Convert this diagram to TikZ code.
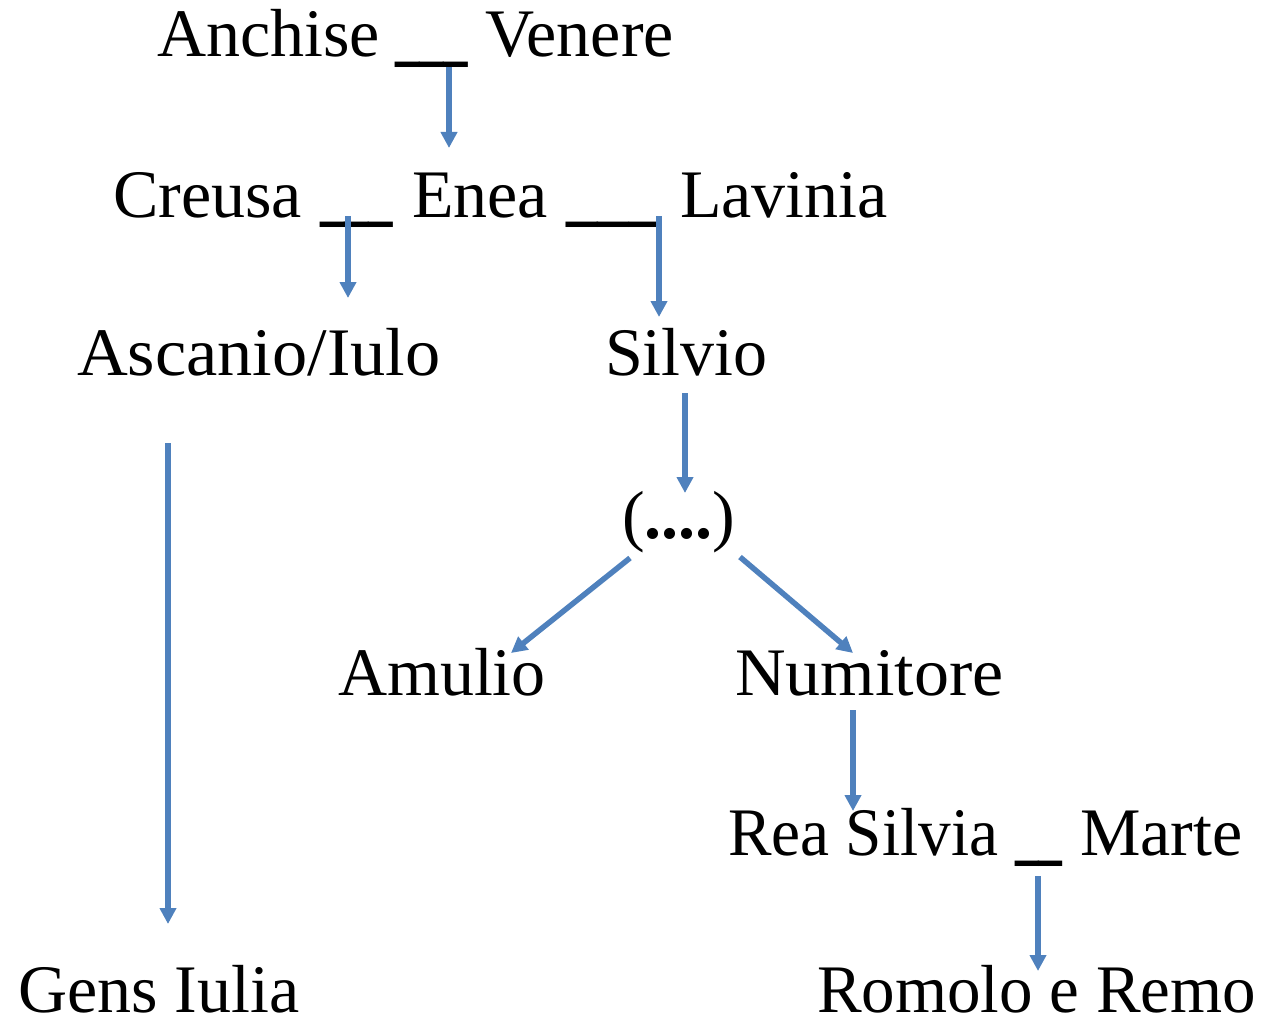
\documentclass[tikz,border=0pt]{standalone}
\usepackage{fontspec}
\setmainfont{Liberation Serif}
\usepackage{graphicx}
\usetikzlibrary{arrows.meta}
\definecolor{arrblue}{RGB}{79,129,189}
\begin{document}
\begin{tikzpicture}[x=1pt,y=-1pt,
  person/.style={anchor=base west,inner sep=0pt,outer sep=0pt,font=\fontsize{68}{80}\selectfont},
  arr/.style={draw=arrblue,line width=5.5pt,-{Triangle[length=16pt,width=16pt]}}]
\useasboundingbox (0,0) rectangle (1276,1019);
% row 1
\node[person] (anchise) at (157,57) {Anchise};
\node[person] (u1) at (395,54) {\scalebox{0.72}[1.6]{\_\_\_}};
\node[person] (venere) at (485,57) {Venere};
% row 2
\node[person] (creusa) at (113,217) {Creusa};
\node[person] (u2) at (320,214) {\scalebox{0.72}[1.6]{\_\_\_}};
\node[person] (enea) at (412,217) {Enea};
\node[person] (u3) at (566,214) {\scalebox{0.93}[1.6]{\_\_\_}};
\node[person] (lavinia) at (680,217) {Lavinia};
% row 3
\node[person] (ascanio) at (77,375) {\scalebox{1.035}[1]{Ascanio/Iulo}};
\node[person] (silvio) at (605,375) {Silvio};
% row 4
\node[person] (dots) at (622,538) {(\textbf{....})};
% row 5
\node[person] (amulio) at (338,695) {Amulio};
\node[person] (numitore) at (735,695) {\scalebox{1.03}[1]{Numitore}};
% row 6
\node[person] (rea) at (728,855) {\scalebox{0.96}[1]{Rea Silvia}};
\node[person] (u4) at (1015,852) {\scalebox{0.7}[1.6]{\_\_}};
\node[person] (marte) at (1080,855) {Marte};
% row 7
\node[person] (gens) at (18,1012) {Gens Iulia};
\node[person] (romolo) at (817,1012) {\scalebox{0.985}[1]{Romolo e Remo}};
% connector ends
\coordinate (a1s) at (449,67);   \coordinate (a1e) at (449,148);
\coordinate (a2s) at (348,216);  \coordinate (a2e) at (348,298);
\coordinate (a3s) at (659,216);  \coordinate (a3e) at (659,317);
\coordinate (a4s) at (685,393);  \coordinate (a4e) at (685,493);
\coordinate (a5s) at (630,558);  \coordinate (a5e) at (511,653);
\coordinate (a6s) at (740,557);  \coordinate (a6e) at (853,653);
\coordinate (a7s) at (853,710);  \coordinate (a7e) at (853,811);
\coordinate (a8s) at (1038,876); \coordinate (a8e) at (1038,971);
\coordinate (a9s) at (168,443);  \coordinate (a9e) at (168,924);
\draw[arr] (a1s) -- (a1e);
\draw[arr] (a2s) -- (a2e);
\draw[arr] (a3s) -- (a3e);
\draw[arr] (a4s) -- (a4e);
\draw[arr] (a5s) -- (a5e);
\draw[arr] (a6s) -- (a6e);
\draw[arr] (a7s) -- (a7e);
\draw[arr] (a8s) -- (a8e);
\draw[arr] (a9s) -- (a9e);
\end{tikzpicture}
\end{document}
